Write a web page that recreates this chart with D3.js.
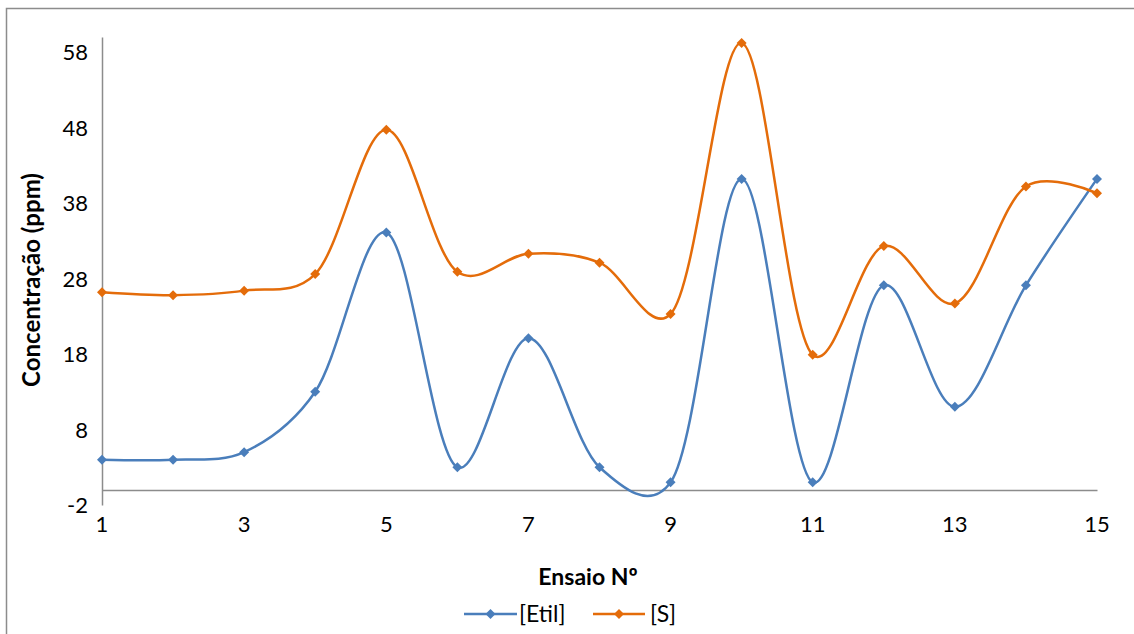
<!DOCTYPE html>
<html>
<head>
<meta charset="utf-8">
<script src="https://cdn.jsdelivr.net/npm/d3@7"></script>
<style>
  html, body { margin: 0; padding: 0; background: #fff; }
  svg { display: block; }
  text { font-family: Lato, "Open Sans", sans-serif; fill: #000; }
</style>
</head>
<body>
<svg id="chart" width="1134" height="634"></svg>
<script>
// ---- data ----
const ensaios = [1, 2, 3, 4, 5, 6, 7, 8, 9, 10, 11, 12, 13, 14, 15];
const etil = [4.0, 4.0, 5.0, 13.0, 34.1, 3.0, 20.1, 3.0, 1.0, 41.2, 1.0, 27.1, 11.0, 27.1, 41.2];
const sConc = [26.2, 25.8, 26.4, 28.6, 47.7, 28.9, 31.3, 30.1, 23.3, 59.2, 17.9, 32.3, 24.7, 40.2, 39.3];
const yTicks = [-2, 8, 18, 28, 38, 48, 58];
const xTicks = [1, 3, 5, 7, 9, 11, 13, 15];
const seriesNames = ["[Etil]", "[S]"];
const seriesColors = ["#4A7EBB", "#E46C0A"];

const svg = d3.select("#chart");
const axisColor = "#8C8C8C";

// outer border (chart area frame, cropped on right/bottom)
svg.append("path")
  .attr("d", "M6.5,634 L6.5,8.5 L1134,8.5")
  .attr("fill", "none").attr("stroke", "#8C8C8C").attr("stroke-width", 1.5);

const x = d3.scaleLinear().domain([1, 15]).range([102, 1097]);
const y = d3.scaleLinear().domain([-2, 60]).range([505, 37]);

// y axis line
const yAxis = d3.axisLeft(y).tickValues(yTicks).tickSize(0).tickPadding(14).tickFormat(d => String(d));
const gy = svg.append("g").attr("transform", `translate(${x(1)},0)`).call(yAxis);
gy.select(".domain").attr("stroke", axisColor).attr("stroke-width", 1.5);
gy.selectAll("text").style("font-size", "22px").attr("dy", "0.35em");

// x axis line at y=0
const xAxis = d3.axisBottom(x).tickValues(xTicks).tickSize(0).tickFormat(d => String(d));
const gx = svg.append("g").attr("transform", `translate(0,${y(0)})`).call(xAxis);
gx.select(".domain").attr("stroke", axisColor).attr("stroke-width", 1.5);
gx.selectAll("text").remove();
// x tick labels below plot bottom
svg.append("g").selectAll("text").data(xTicks).join("text")
  .attr("x", d => x(d)).attr("y", 524).attr("dy", "0.35em")
  .attr("text-anchor", "middle").style("font-size", "22px").text(d => d);

// axis titles
svg.append("text").attr("transform", "translate(32,280) rotate(-90)")
  .attr("text-anchor", "middle").attr("dy", "0.35em")
  .style("font-size", "24px").style("font-weight", "bold").text("Concentração (ppm)");
svg.append("text").attr("x", 588).attr("y", 577).attr("dy", "0.35em")
  .attr("text-anchor", "middle")
  .style("font-size", "23px").style("font-weight", "bold").text("Ensaio Nº");

// series
const series = [etil, sConc];
const line = d3.line().x((d, i) => x(ensaios[i])).y(d => y(d)).curve(d3.curveCatmullRom.alpha(0.2));
const diamond = d3.symbol().type(d3.symbolSquare).size(50);

series.forEach((vals, si) => {
  const g = svg.append("g");
  g.append("path").datum(vals).attr("d", line)
    .attr("fill", "none").attr("stroke", seriesColors[si]).attr("stroke-width", 2.5);
  g.selectAll("path.m").data(vals).join("path").attr("class", "m")
    .attr("transform", (d, i) => `translate(${x(ensaios[i])},${y(d)}) rotate(45)`)
    .attr("d", diamond).attr("fill", seriesColors[si]);
});

// legend
const legendItems = [
  { x1: 464, x2: 517, tx: 519 },
  { x1: 593, x2: 645, tx: 650 }
];
const ly = 614;
legendItems.forEach((it, i) => {
  const g = svg.append("g");
  g.append("line").attr("x1", it.x1).attr("x2", it.x2).attr("y1", ly).attr("y2", ly)
    .attr("stroke", seriesColors[i]).attr("stroke-width", 2.5);
  g.append("path").attr("transform", `translate(${(it.x1 + it.x2) / 2},${ly}) rotate(45)`)
    .attr("d", diamond).attr("fill", seriesColors[i]);
  g.append("text").attr("x", it.tx).attr("y", ly).attr("dy", "0.35em")
    .style("font-size", "23px").text(seriesNames[i]);
});
</script>
</body>
</html>
